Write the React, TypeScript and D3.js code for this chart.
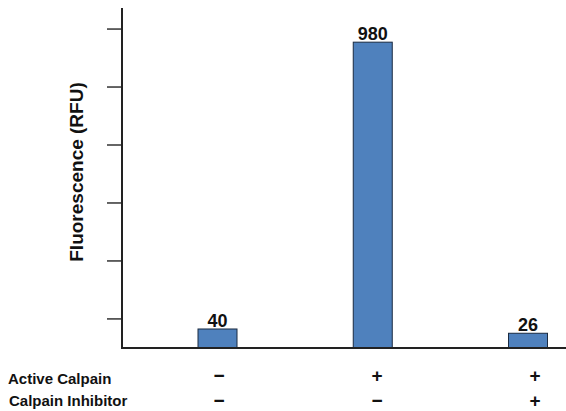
import React from "react";
import * as d3 from "d3";

const categories = ["A", "B", "C"];
const values = [40, 980, 26];
const valueLabels = ["40", "980", "26"];
const activeCalpain = ["−", "+", "+"];
const calpainInhibitor = ["−", "−", "+"];
const rowLabels = ["Active Calpain", "Calpain Inhibitor"];
const yTickValues = [73, 263, 453, 643, 833, 1023];
const yTitle = "Fluorescence (RFU)";

const W = 566;
const H = 411;
const axisX = 122;
const baseY = 348;
const topY = 8;
const barW = 39;
const font = "'Liberation Sans', Arial, sans-serif";

export default function App() {
  const y = d3.scaleLinear().domain([-22.3, 1092]).range([baseY, topY]);
  const x = d3.scalePoint<string>().domain(categories).range([217.5, 528]);
  const xs = d3.scalePoint<string>().domain(categories).range([219, 535]);
  return (
    <svg width={W} height={H} style={{ position: "absolute", left: 0, top: 0, background: "#fff" }} fontFamily={font}>
      {yTickValues.map((t, i) => (
        <line key={i} x1={107} x2={axisX} y1={y(t)} y2={y(t)} stroke="#333" strokeWidth={1.5} />
      ))}
      {categories.map((c, i) => (
        <rect
          key={c}
          x={(x(c) as number) - barW / 2}
          y={y(values[i])}
          width={barW}
          height={baseY - y(values[i])}
          fill="#4f81bd"
          stroke="#1a2a40"
          strokeWidth={1}
        />
      ))}
      {categories.map((c, i) => (
        <text key={"v" + c} x={x(c) as number} y={y(values[i]) - 2} textAnchor="middle" fontSize={18} fontWeight="bold" fill="#111">
          {valueLabels[i]}
        </text>
      ))}
      <line x1={axisX} x2={axisX} y1={topY} y2={baseY + 1} stroke="#222" strokeWidth={2} />
      <line x1={axisX - 1} x2={W} y1={baseY} y2={baseY} stroke="#222" strokeWidth={2} />
      <text transform={`translate(83,172) rotate(-90)`} textAnchor="middle" fontSize={19} fontWeight="bold" fill="#111">
        {yTitle}
      </text>
      <text x={8} y={383.5} fontSize={15} fontWeight="bold" fill="#111">{rowLabels[0]}</text>
      <text x={9} y={406} fontSize={15} fontWeight="bold" fill="#111">{rowLabels[1]}</text>
      {categories.map((c, i) => (
        <g key={"s" + c}>
          <text x={xs(c) as number} y={382} textAnchor="middle" fontSize={19} fontWeight="bold" fill="#111">{activeCalpain[i]}</text>
          <text x={xs(c) as number} y={407} textAnchor="middle" fontSize={19} fontWeight="bold" fill="#111">{calpainInhibitor[i]}</text>
        </g>
      ))}
    </svg>
  );
}
